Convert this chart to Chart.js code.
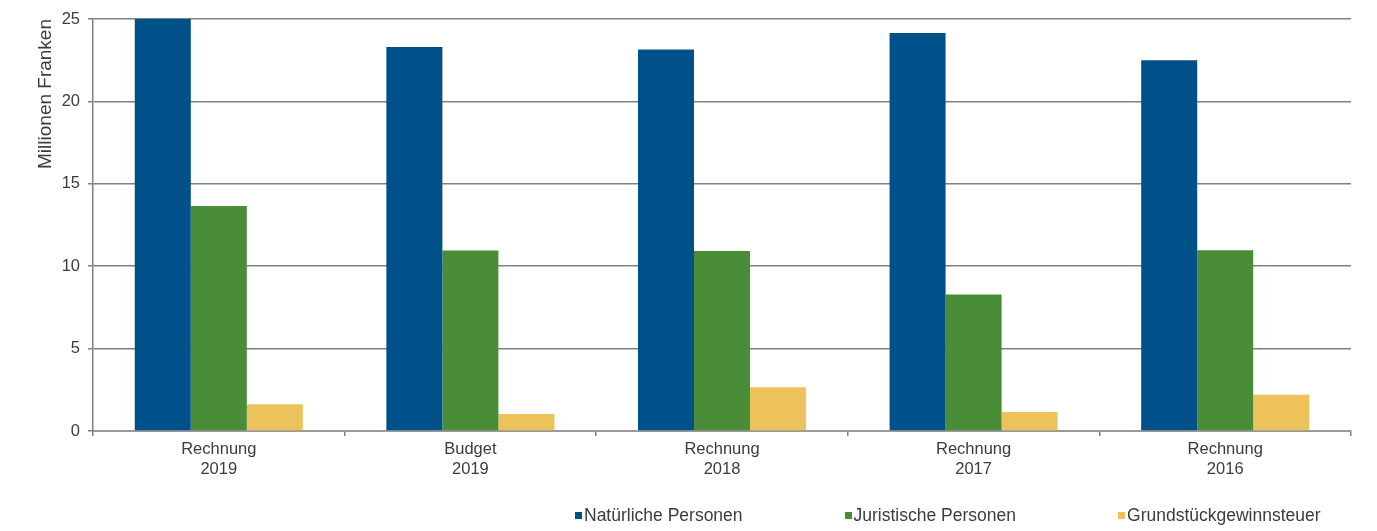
<!DOCTYPE html>
<html>
<head>
<meta charset="utf-8">
<script src="https://cdn.jsdelivr.net/npm/chart.js@4.4.1/dist/chart.umd.min.js"></script>
<style>
    html, body { margin: 0; padding: 0; background: #fff; }
    #wrap { position: relative; width: 1377px; height: 531px; }
    #legend {
        position: absolute; left: 575px; top: 505px;
        display: flex; gap: 102px;
        font: 17.5px 'Liberation Sans', Arial, sans-serif; color: #3c3c3c;
        white-space: nowrap;
    }
    #legend span.item { display: flex; align-items: center; }
    #legend span.box { display: inline-block; width: 7px; height: 7px; margin-right: 2px; }
</style>
</head>
<body>
<div id="wrap">
    <canvas id="steuern" width="1377" height="531"></canvas>
    <div id="legend"></div>
</div>
<script>
// Kategorien und Werte (Mio. Fr.)
const kategorien = [['Rechnung', '2019'], ['Budget', '2019'], ['Rechnung', '2018'], ['Rechnung', '2017'], ['Rechnung', '2016']];
const natuerlichePersonen = [25.0, 23.3, 23.15, 24.15, 22.5];
const juristischePersonen = [13.65, 10.95, 10.92, 8.28, 10.97];
const grundstueckgewinnsteuer = [1.63, 1.03, 2.66, 1.16, 2.2];
const yTicks = [0, 5, 10, 15, 20, 25];

const schrift = { family: "'Liberation Sans', Arial, sans-serif", size: 16.5 };
const textFarbe = '#3c3c3c';
const gitterFarbe = '#808080';

const datasets = [
    { label: 'Natürliche Personen', data: natuerlichePersonen, backgroundColor: '#00518A' },
    { label: 'Juristische Personen', data: juristischePersonen, backgroundColor: '#498D38' },
    { label: 'Grundstückgewinnsteuer', data: grundstueckgewinnsteuer, backgroundColor: '#EDC25B' }
];

const chart = new Chart(document.getElementById('steuern'), {
    type: 'bar',
    data: { labels: kategorien, datasets },
    options: {
        responsive: false,
        animation: false,
        datasets: { bar: { categoryPercentage: 0.668, barPercentage: 1, borderWidth: 0 } },
        layout: { padding: { left: 34, right: 26, top: 19, bottom: 0 } },
        plugins: { legend: { display: false }, tooltip: { enabled: false } },
        scales: {
            x: {
                grid: { drawOnChartArea: false, drawTicks: true, tickLength: 5, offset: true, color: gitterFarbe, lineWidth: 1.5 },
                border: { color: '#999', width: 2 },
                ticks: { font: schrift, color: textFarbe, padding: 4, maxRotation: 0 },
                afterFit: s => { s.height = 100; }
            },
            y: {
                min: 0, max: 25,
                afterBuildTicks: s => { s.ticks = yTicks.map(v => ({ value: v })); },
                grid: { color: gitterFarbe, lineWidth: 1.5, tickLength: 5 },
                border: { color: gitterFarbe, width: 1.5 },
                ticks: { font: schrift, color: textFarbe, padding: 8 },
                title: { display: true, text: 'Millionen Franken', align: 'end', padding: 0, color: textFarbe, font: { family: schrift.family, size: 19 } },
                afterFit: s => { s.width = 59; }
            }
        }
    }
});

// Legende unten rechts
const legende = document.getElementById('legend');
chart.data.datasets.forEach(ds => {
    const item = document.createElement('span');
    item.className = 'item';
    item.innerHTML = `<span class="box" style="background:${ds.backgroundColor}"></span>${ds.label}`;
    legende.appendChild(item);
});
</script>
</body>
</html>
